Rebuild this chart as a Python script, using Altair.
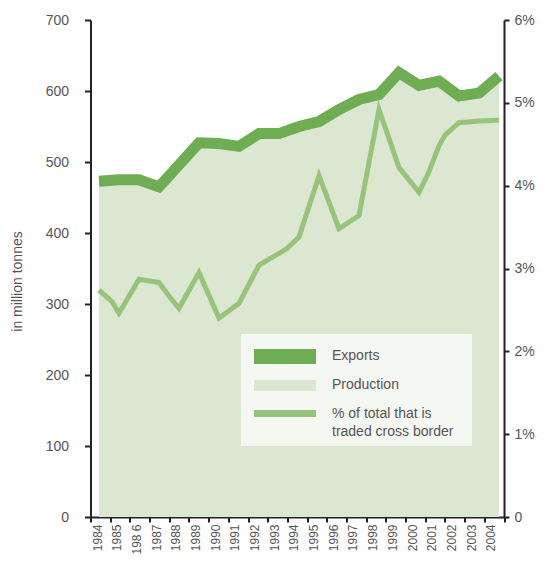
import altair as alt
import pandas as pd

# ---- data ----
years = list(range(1984, 2005))
exports = [473, 475, 475, 465, 496, 527, 526, 522, 540, 540, 550,
           557, 574, 588, 595, 626, 608, 614, 593, 597, 621]
production = [473, 475, 475, 465, 496, 527, 526, 522, 540, 540, 550,
              557, 574, 588, 595, 626, 608, 614, 593, 597, 621]
pct_years = [1984, 1984.65, 1985, 1986, 1987, 1987.65, 1988, 1989, 1990, 1991,
             1992, 1993.4, 1994, 1995, 1996, 1997, 1998, 1999, 2000, 2000.45,
             2001, 2001.3, 2002, 2003, 2004]
pct_values = [2.74, 2.60, 2.46, 2.87, 2.83, 2.62, 2.52, 2.95, 2.40, 2.58,
              3.04, 3.24, 3.38, 4.12, 3.48, 3.64, 4.92, 4.22, 3.92, 4.14,
              4.48, 4.61, 4.76, 4.78, 4.79]
year_labels = [str(y) for y in years]
year_labels[2] = "198 6"
left_ticks = [0, 100, 200, 300, 400, 500, 600, 700]
right_ticks = [0, 1, 2, 3, 4, 5, 6]
legend_labels = ["Exports", "Production", "% of total that is", "traded cross border"]

EXP_C = "#6fad52"
PROD_C = "#dbe7d1"
PCT_C = "#97c37b"
TXT_C = "#555555"
AX_C = "#222222"
FONT = "Liberation Sans"

df = pd.DataFrame({"year": years, "exports": exports, "production": production})
dp = pd.DataFrame({"year": pct_years, "pct": pct_values})
one = pd.DataFrame({"k": [0]})

W, H = 413.5, 497
PL = 82.5
X0 = 1983.575
X1 = X0 + W / 20.0
step = (X1 - X0) / 21
tick_vals = [X0 + k * step for k in range(22)]
lab_js = "[" + ",".join("'%s'" % s for s in year_labels) + "]"
label_expr = f"{lab_js}[round((datum.value - {X0}) / {step})] || ''"

x_enc = alt.X("year:Q",
              scale=alt.Scale(domain=[X0, X1], nice=False, zero=False),
              axis=alt.Axis(values=tick_vals, labelExpr=label_expr, title=None,
                            labelAngle=270, labelAlign="right", labelBaseline="middle",
                            labelOffset=6.5, labelPadding=2, labelFontSize=12,
                            labelColor=TXT_C, labelFont=FONT, labelOverlap=False,
                            labelFlush=False, labelBound=False,
                            tickSize=5, tickWidth=2, tickColor=AX_C,
                            domainWidth=2, domainColor=AX_C, grid=False))

yscale = alt.Scale(domain=[0, 700], nice=False, zero=True)

area = alt.Chart(df).mark_area(color=PROD_C, opacity=1).encode(
    x=x_enc,
    y=alt.Y("production:Q", scale=yscale,
            axis=alt.Axis(values=left_ticks, title="in million tonnes", grid=False,
                          labelFontSize=14, labelColor=TXT_C, labelFont=FONT,
                          labelPadding=16, tickSize=6, tickWidth=2, tickColor=AX_C,
                          domainWidth=2, domainColor=AX_C,
                          titleFontSize=14, titleFontWeight="normal", titleColor=TXT_C,
                          titleFont=FONT, titleAngle=270, titleX=17.3 - 8 - PL, titleY=261,
                          titleAlign="center", titleBaseline="middle")),
)

LX = lambda px: px - 8 - PL  # page x -> plot x

box = alt.Chart(one).mark_rect(color="#f5f7f2").encode(
    x=alt.value(LX(241)), x2=alt.value(LX(472)), y=alt.value(314), y2=alt.value(426))

pct_line = alt.Chart(dp).mark_line(color=PCT_C, strokeWidth=5, strokeJoin="miter",
                                    strokeCap="butt").encode(
    x=x_enc,
    y=alt.Y("pct:Q", scale=alt.Scale(domain=[0, 6], nice=False),
            axis=alt.Axis(orient="right", values=right_ticks, grid=False, title=None,
                          labelExpr="datum.value == 0 ? '0' : datum.value + '%'",
                          labelFontSize=14, labelColor=TXT_C, labelFont=FONT,
                          labelPadding=5, tickSize=5, tickWidth=2, tickColor=AX_C,
                          domainWidth=2, domainColor=AX_C)),
)

exp_line = alt.Chart(df).mark_line(color=EXP_C, strokeWidth=11, strokeJoin="miter",
                                   strokeCap="butt").encode(
    x=x_enc,
    y=alt.Y("exports:Q", scale=yscale, axis=None),
)

sw_exp = alt.Chart(one).mark_rect(color=EXP_C).encode(
    x=alt.value(LX(254)), x2=alt.value(LX(316)), y=alt.value(329), y2=alt.value(344))
sw_prod = alt.Chart(one).mark_rect(color=PROD_C).encode(
    x=alt.value(LX(254)), x2=alt.value(LX(316)), y=alt.value(360), y2=alt.value(371))
sw_pct = alt.Chart(one).mark_rect(color=PCT_C).encode(
    x=alt.value(LX(254)), x2=alt.value(LX(316)), y=alt.value(390), y2=alt.value(397))

leg_df = pd.DataFrame({"label": legend_labels, "ypos": [336, 365, 393.5, 411.5]})
leg_text = alt.Chart(leg_df).mark_text(align="left", baseline="middle", fontSize=14,
                                       font=FONT, color=TXT_C).encode(
    x=alt.value(LX(332)),
    y=alt.Y("ypos:Q", scale=alt.Scale(domain=[0, H], range=[0, H], nice=False, zero=True), axis=None),
    text="label:N",
)

chart = alt.layer(area, box, pct_line, exp_line, sw_exp, sw_prod, sw_pct, leg_text).resolve_scale(
    y="independent"
).properties(
    width=W, height=H,
    autosize=alt.AutoSizeParams(type="none"),
    padding={"left": PL, "top": 12, "right": 31, "bottom": 37},
    background="white",
).configure_view(stroke=None)

chart.save("out.html", embed_options={"renderer": "svg", "actions": False})
